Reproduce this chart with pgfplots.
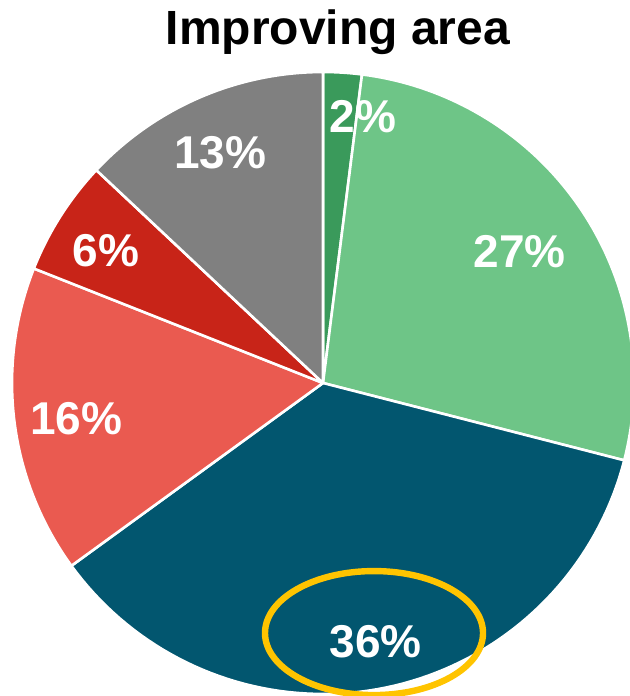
\documentclass[border=0pt]{standalone}
\usepackage{pgfplots}
\pgfplotsset{compat=1.18}
\usepackage{fontspec}
\setmainfont{Liberation Sans}
\definecolor{dgreen}{RGB}{58,154,91}
\definecolor{lgreen}{RGB}{110,197,135}
\definecolor{teal2}{RGB}{2,86,111}
\definecolor{lred}{RGB}{234,90,80}
\definecolor{dred}{RGB}{200,36,24}
\definecolor{grey2}{RGB}{128,128,128}
\definecolor{ring}{RGB}{255,196,0}
% slice: #1 cumulative percent before, #2 percent, #3 colour
\newcommand{\slice}[3]{%
  \addplot[fill=#3, draw=white, line width=1.3pt, line join=round, domain={90-3.6*(#1)}:{90-3.6*(#1+#2)}, samples=80, variable=\t]
    ({cos(\t)},{sin(\t)}) -- (axis cs:0,0) -- cycle;
}
\begin{document}
\begin{tikzpicture}
\useasboundingbox (0,0) rectangle (315pt,348pt);
\clip (0,0) rectangle (315pt,348pt);
\begin{axis}[
  at={(0,0)}, anchor=south west,
  scale only axis, width=315pt, height=348pt,
  xmin=-1.0386, xmax=0.9871, ymin=-1.0064, ymax=1.2315,
  hide axis, clip=false,
]
\slice{0}{2}{dgreen}
\slice{2}{27}{lgreen}
\slice{29}{36}{teal2}
\slice{65}{16}{lred}
\slice{81}{6}{dred}
\slice{87}{13}{grey2}
\begin{scope}[every node/.style={text=white, font=\fontsize{23}{27}\selectfont\bfseries, anchor=base, inner sep=0pt}]
\node at (axis cs:0.128,0.804) {2\%};
\node at (axis cs:0.633,0.370) {27\%};
\node at (axis cs:0.170,-0.884) {36\%};
\node at (axis cs:-0.794,-0.164) {16\%};
\node at (axis cs:-0.698,0.376) {6\%};
\node at (axis cs:-0.331,0.691) {13\%};
\end{scope}
\draw[ring, line width=3.2pt] (axis cs:0.164,-0.804) ellipse [x radius=54.5pt, y radius=31pt];
\node[anchor=base, inner sep=0pt, font=\fontsize{24}{28}\selectfont\bfseries] at (axis cs:0.048,1.087) {Improving area};
\end{axis}
\end{tikzpicture}
\end{document}
